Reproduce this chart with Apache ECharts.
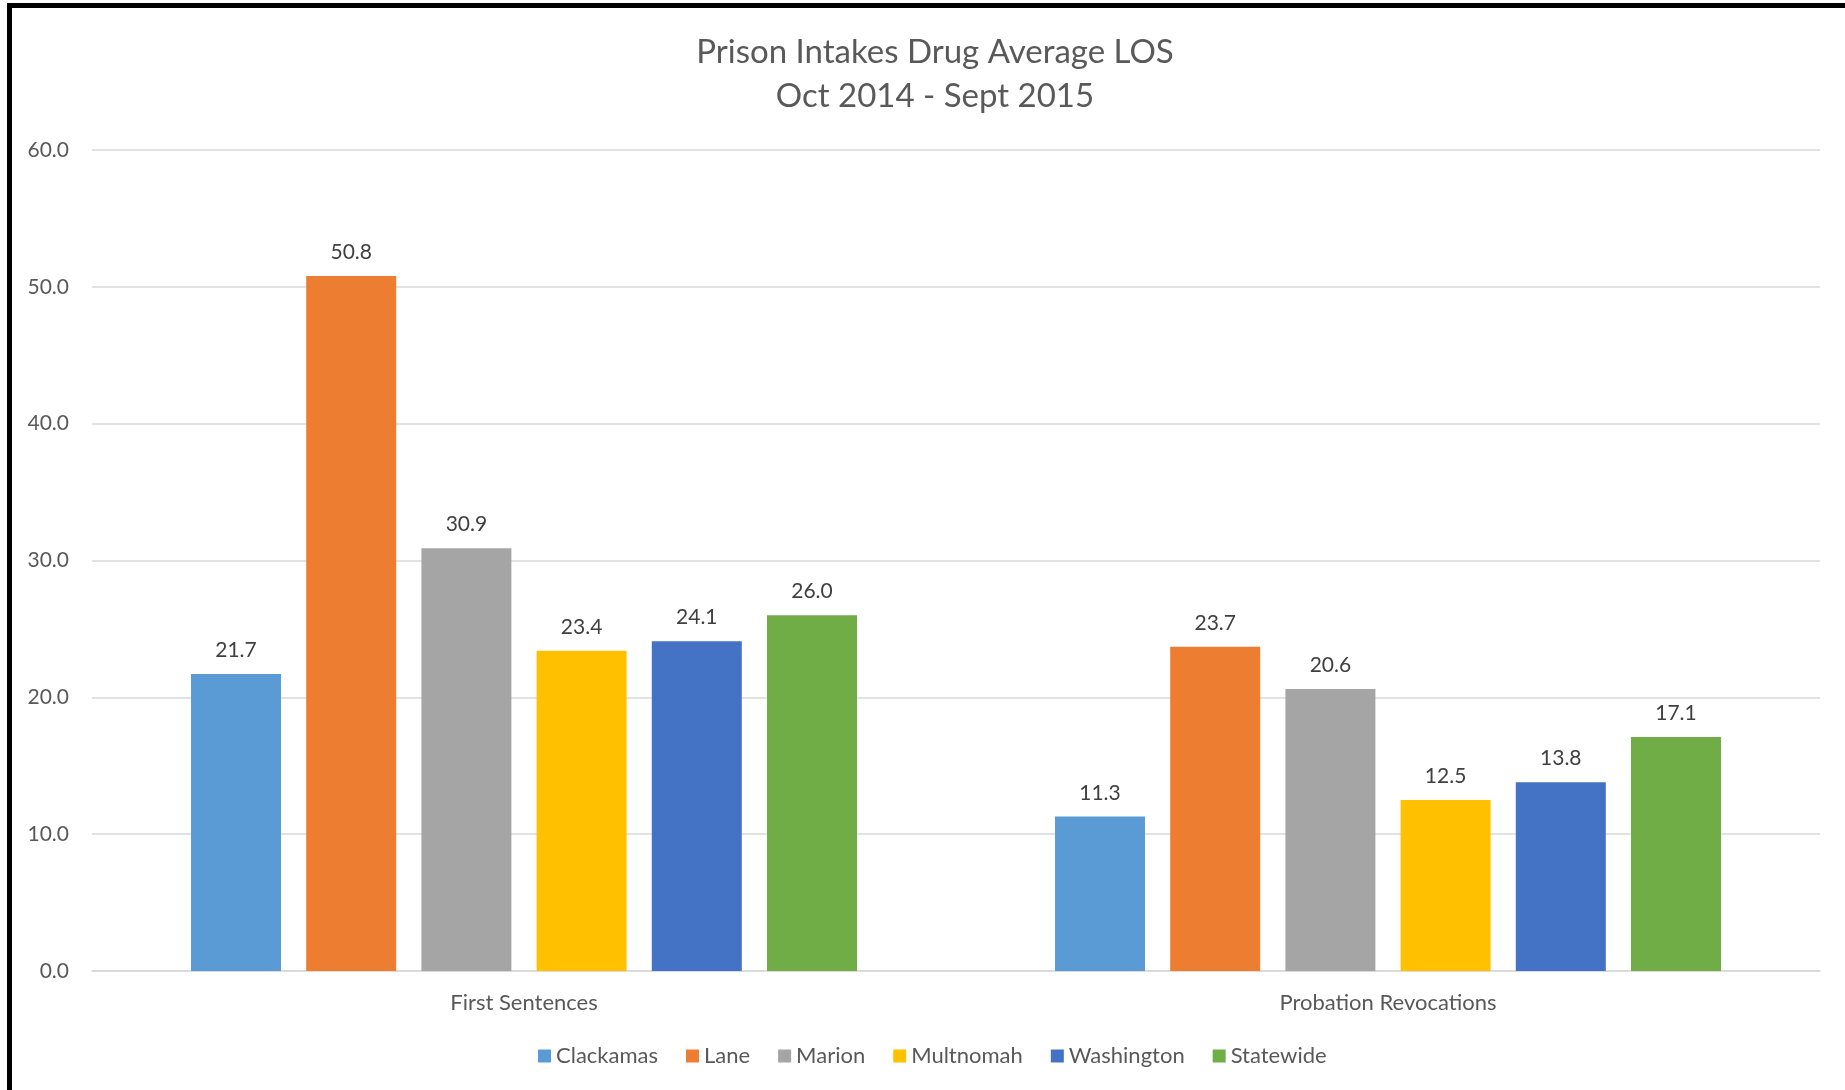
<!DOCTYPE html>
<html>
<head>
<meta charset="utf-8">
<title>Prison Intakes Drug Average LOS</title>
<script src="https://cdn.jsdelivr.net/npm/echarts@6/dist/echarts.min.js"></script>
<style>
    html, body { margin: 0; padding: 0; background: #fff; overflow: hidden; }
    #frame {
        position: absolute; left: 7px; top: 3px; width: 1900px; height: 1200px;
        border-left: 5px solid #000; border-top: 5px solid #000;
        pointer-events: none; z-index: 2;
    }
    #chart { position: absolute; left: 0; top: 0; width: 1845px; height: 1090px; }
</style>
</head>
<body>
<div id="chart"></div>
<div id="frame"></div>
<script>
    // 数据
    const categories = ['First Sentences', 'Probation Revocations'];
    const seriesNames = ['Clackamas', 'Lane', 'Marion', 'Multnomah', 'Washington', 'Statewide'];
    const clackamas = [21.7, 11.3];
    const lane = [50.8, 23.7];
    const marion = [30.9, 20.6];
    const multnomah = [23.4, 12.5];
    const washington = [24.1, 13.8];
    const statewide = [26.0, 17.1];
    const yTicks = [0, 10, 20, 30, 40, 50, 60];

    const seriesValues = [clackamas, lane, marion, multnomah, washington, statewide];
    const colors = ['#5B9BD5', '#ED7D31', '#A5A5A5', '#FFC000', '#4472C4', '#70AD47'];
    const fontFamily = 'Lato, "Open Sans", sans-serif';
    const textColor = '#595959';

    const chart = echarts.init(document.getElementById('chart'), null, { renderer: 'canvas' });

    const series = seriesNames.map((name, i) => ({
        name,
        type: 'bar',
        data: seriesValues[i],
        barWidth: 90,
        barGap: '28%',
        itemStyle: { color: colors[i] },
        label: {
            show: true,
            position: 'top',
            distance: 13,
            color: '#404040',
            fontFamily,
            fontSize: 21,
            formatter: p => Number(p.value).toFixed(1)
        }
    }));

    chart.setOption({
        animation: false,
        backgroundColor: '#fff',
        title: {
            text: 'Prison Intakes Drug Average LOS\nOct 2014 - Sept 2015',
            left: 930,
            top: 25,
            textAlign: 'center',
            textStyle: {
                color: textColor,
                fontFamily,
                fontWeight: 'normal',
                fontSize: 33,
                lineHeight: 44
            }
        },
        legend: {
            data: seriesNames,
            left: 533,
            top: 1040,
            icon: 'rect',
            itemWidth: 13,
            itemHeight: 13,
            itemGap: 28,
            textStyle: { color: textColor, fontFamily, fontSize: 22 }
        },
        grid: { left: 92, right: 25, top: 150, bottom: 119, containLabel: false },
        xAxis: {
            type: 'category',
            data: categories,
            axisTick: { show: false },
            axisLine: { lineStyle: { color: '#D9D9D9', width: 1.5 } },
            axisLabel: { color: textColor, fontFamily, fontSize: 22, margin: 21 }
        },
        yAxis: {
            type: 'value',
            min: yTicks[0],
            max: yTicks[yTicks.length - 1],
            interval: 10,
            axisLine: { show: false },
            axisTick: { show: false },
            axisLabel: {
                color: textColor,
                fontFamily,
                fontSize: 21,
                margin: 23,
                formatter: v => v.toFixed(1)
            },
            splitLine: { lineStyle: { color: '#D9D9D9', width: 1.5 } }
        },
        series
    });
</script>
</body>
</html>
